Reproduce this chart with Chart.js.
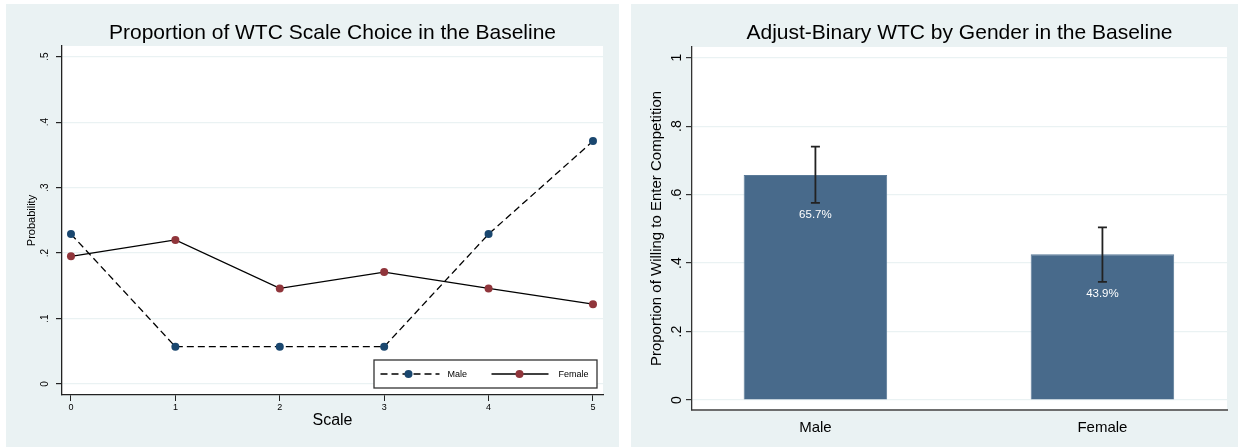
<!DOCTYPE html>
<html>
<head>
<meta charset="utf-8">
<script src="https://cdn.jsdelivr.net/npm/chart.js@4.4.1/dist/chart.umd.min.js"></script>
<style>
  body { margin: 0; background: #fff; width: 1238px; height: 447px; position: relative; overflow: hidden; }
  .panel { position: absolute; background: #eaf2f3; }
  #p1 { left: 6px; top: 4px; width: 613px; height: 443px; }
  #p2 { left: 631px; top: 4px; width: 607px; height: 443px; }
  canvas { display: block; }
</style>
</head>
<body>
<div class="panel" id="p1"><canvas id="scaleChart" width="613" height="443"></canvas></div>
<div class="panel" id="p2"><canvas id="genderChart" width="607" height="443"></canvas></div>
<script>
// left panel: share choosing each WTC scale point
const scalePoints = [0, 1, 2, 3, 4, 5];
const maleShare = [0.229, 0.057, 0.057, 0.057, 0.229, 0.371];
const femaleShare = [0.195, 0.220, 0.146, 0.171, 0.146, 0.122];
const probTicks = [0, 0.1, 0.2, 0.3, 0.4, 0.5];

// right panel: adjusted binary WTC
const genders = ['Male', 'Female'];
const willing = [0.657, 0.426];
const willingLabels = ['65.7%', '43.9%'];
const ciLow = [0.576, 0.345];
const ciHigh = [0.740, 0.504];
const propTicks = [0, 0.2, 0.4, 0.6, 0.8, 1];

const FONT = '"Liberation Sans", Arial, Helvetica, sans-serif';
Chart.defaults.font.family = FONT;
Chart.defaults.color = '#000';

// stata style: .2 instead of 0.2
const stataLabel = v => v === 0 ? '0' : (Math.round(v * 10) / 10).toString().replace(/^0\./, '.');

const plotBg = {
  id: 'plotBg',
  beforeDraw(chart) {
    const { ctx, chartArea: a } = chart;
    ctx.save();
    ctx.fillStyle = '#fff';
    ctx.fillRect(a.left, a.top, a.width, a.height);
    ctx.restore();
  }
};

// legend box inside the plot, bottom right
const boxLegend = {
  id: 'boxLegend',
  afterDraw(chart) {
    const { ctx, chartArea: a } = chart;
    const w = 223, h = 28;
    const left = a.right - 6 - w, top = a.bottom - 7 - h;
    const cy = top + h / 2;
    ctx.save();
    ctx.fillStyle = '#fff';
    ctx.fillRect(left, top, w, h);
    ctx.strokeStyle = '#333';
    ctx.lineWidth = 1.3;
    ctx.strokeRect(left, top, w, h);
    const items = [[6.5, 65.5, 34.5, 73.5], [117.5, 174.5, 145.5, 184.5]];
    chart.data.datasets.forEach((ds, i) => {
      const [x0, x1, xm, xt] = items[i];
      ctx.strokeStyle = ds.borderColor;
      ctx.lineWidth = ds.borderWidth;
      ctx.setLineDash(ds.borderDash || []);
      ctx.beginPath();
      ctx.moveTo(left + x0, cy);
      ctx.lineTo(left + x1, cy);
      ctx.stroke();
      ctx.setLineDash([]);
      ctx.fillStyle = ds.pointBackgroundColor;
      ctx.beginPath();
      ctx.arc(left + xm, cy, 4, 0, Math.PI * 2);
      ctx.fill();
      ctx.fillStyle = '#000';
      ctx.font = '9px ' + FONT;
      ctx.textBaseline = 'middle';
      ctx.textAlign = 'left';
      ctx.fillText(ds.label, left + xt, cy + 0.5);
    });
    ctx.restore();
  }
};

new Chart(document.getElementById('scaleChart'), {
  type: 'line',
  data: {
    datasets: [
      {
        label: 'Male',
        data: scalePoints.map((x, i) => ({ x, y: maleShare[i] })),
        borderColor: '#000',
        borderWidth: 1.3,
        borderDash: [7, 4],
        pointBackgroundColor: '#1a476f',
        pointBorderColor: '#1a476f',
        pointBorderWidth: 0,
        pointRadius: 4,
        tension: 0
      },
      {
        label: 'Female',
        data: scalePoints.map((x, i) => ({ x, y: femaleShare[i] })),
        borderColor: '#000',
        borderWidth: 1.3,
        pointBackgroundColor: '#90353b',
        pointBorderColor: '#90353b',
        pointBorderWidth: 0,
        pointRadius: 4,
        tension: 0
      }
    ]
  },
  options: {
    responsive: false,
    devicePixelRatio: 1,
    animation: false,
    events: [],
    layout: { padding: { left: 0, right: 16, top: 0, bottom: 0 } },
    plugins: {
      legend: { display: false },
      tooltip: { enabled: false },
      title: {
        display: true,
        fullSize: false,
        text: 'Proportion of WTC Scale Choice in the Baseline',
        font: { size: 21, weight: 'normal' },
        color: '#000',
        padding: { top: 16.4, bottom: 0.4 }
      }
    },
    scales: {
      x: {
        type: 'linear',
        min: -0.086,
        max: 5.096,
        offset: false,
        afterBuildTicks: s => { s.ticks = scalePoints.map(v => ({ value: v })); },
        afterFit: s => { s.height = 52; },
        ticks: { font: { size: 9 }, color: '#000', padding: 1.3, maxRotation: 0, callback: v => String(v) },
        grid: { color: 'transparent', drawOnChartArea: false, tickColor: '#222', tickLength: 6 },
        border: { color: '#222', width: 1.3 },
        title: { display: true, text: 'Scale', font: { size: 16 }, color: '#000', padding: { top: 0, bottom: 16.4 } }
      },
      y: {
        type: 'linear',
        min: -0.0168,
        max: 0.5163,
        afterBuildTicks: s => { s.ticks = probTicks.map(v => ({ value: v })); },
        afterFit: s => { s.width = 56; },
        ticks: { font: { size: 10 }, color: '#000', minRotation: 90, maxRotation: 90, crossAlign: 'center', padding: 7, callback: stataLabel },
        grid: { color: '#eaf2f3', lineWidth: 1.2, tickColor: '#222', tickLength: 6 },
        border: { color: '#222', width: 1.3 },
        title: { display: true, text: 'Probability', font: { size: 11 }, color: '#000', padding: { top: 19.4, bottom: 0 } }
      }
    }
  },
  plugins: [plotBg, boxLegend]
});

// error bars and value labels on the bars
const barExtras = {
  id: 'barExtras',
  afterDatasetsDraw(chart) {
    const { ctx, scales: { x, y } } = chart;
    const bars = chart.getDatasetMeta(0).data;
    ctx.save();
    genders.forEach((g, i) => {
      const cx = x.getPixelForValue(i + 1);
      const yHi = y.getPixelForValue(ciHigh[i]);
      const yLo = y.getPixelForValue(ciLow[i]);
      ctx.strokeStyle = '#222';
      ctx.lineWidth = 1.8;
      ctx.beginPath();
      ctx.moveTo(cx, yHi); ctx.lineTo(cx, yLo);
      ctx.moveTo(cx - 4.5, yHi); ctx.lineTo(cx + 4.5, yHi);
      ctx.moveTo(cx - 4.5, yLo); ctx.lineTo(cx + 4.5, yLo);
      ctx.stroke();
      ctx.fillStyle = '#fff';
      ctx.font = '11.5px ' + FONT;
      ctx.textAlign = 'center';
      ctx.textBaseline = 'middle';
      ctx.fillText(willingLabels[i], bars[i].x, bars[i].y + 40);
    });
    ctx.restore();
  }
};

new Chart(document.getElementById('genderChart'), {
  type: 'bar',
  data: {
    datasets: [{
      label: 'Willing',
      data: genders.map((g, i) => ({ x: i + 1, y: willing[i] })),
      backgroundColor: '#486a8b',
      borderColor: '#5a7a98',
      borderWidth: 1,
      barPercentage: 0.5,
      categoryPercentage: 1
    }]
  },
  options: {
    responsive: false,
    devicePixelRatio: 1,
    animation: false,
    events: [],
    layout: { padding: { left: 0, right: 11, top: 0, bottom: 0 } },
    plugins: {
      legend: { display: false },
      tooltip: { enabled: false },
      title: {
        display: true,
        fullSize: false,
        text: 'Adjust-Binary WTC by Gender in the Baseline',
        font: { size: 21, weight: 'normal' },
        color: '#000',
        padding: { top: 16.4, bottom: 1.4 }
      }
    },
    scales: {
      x: {
        type: 'linear',
        min: 0.570,
        max: 2.434,
        offset: false,
        afterBuildTicks: s => { s.ticks = genders.map((g, i) => ({ value: i + 1 })); },
        afterFit: s => { s.height = 37; },
        ticks: { font: { size: 15 }, color: '#000', padding: 1, maxRotation: 0, callback: v => genders[v - 1] },
        grid: { display: false, offset: false },
        border: { color: '#6e6e6e', width: 2 }
      },
      y: {
        type: 'linear',
        min: -0.029,
        max: 1.031,
        afterBuildTicks: s => { s.ticks = propTicks.map(v => ({ value: v })); },
        afterFit: s => { s.width = 61; },
        ticks: { font: { size: 14 }, color: '#000', minRotation: 90, maxRotation: 90, crossAlign: 'center', padding: 3.2, callback: stataLabel },
        grid: { color: '#eaf2f3', lineWidth: 1.2, tickColor: '#333', tickLength: 6 },
        border: { color: '#333', width: 1.3 },
        title: { display: true, text: 'Proportion of Willing to Enter Competition', font: { size: 15 }, color: '#000', padding: { top: 17, bottom: 0 } }
      }
    }
  },
  plugins: [plotBg, barExtras]
});
</script>
</body>
</html>
